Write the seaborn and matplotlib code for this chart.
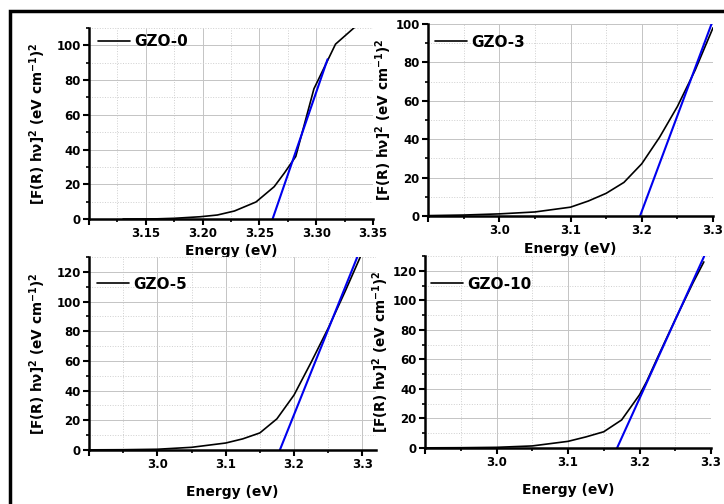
import matplotlib
matplotlib.use("Agg")
import matplotlib.pyplot as plt
from matplotlib.patches import Rectangle
from matplotlib.ticker import MultipleLocator, FuncFormatter
import pandas as pd
import seaborn as sns

# Tauc plot readings, [F(R) hv]^2 versus photon energy
e_gzo0 = [3.13, 3.16, 3.175, 3.198, 3.213, 3.228, 3.247, 3.263, 3.272, 3.282, 3.298, 3.317, 3.334, 3.35]
v_gzo0 = [0.0, 0.1, 0.4, 1.3, 2.3, 4.6, 9.8, 18.6, 26.5, 36, 75, 100.7, 110.5, 119]
fit_e_gzo0 = [3.2616, 3.310]
fit_v_gzo0 = [0, 92]

e_gzo3 = [2.90, 2.95, 3.00, 3.05, 3.10, 3.125, 3.15, 3.175, 3.20, 3.225, 3.25, 3.275, 3.30]
v_gzo3 = [0.2, 0.5, 1.1, 2.1, 4.6, 7.8, 11.8, 17.5, 27.2, 41, 57, 76, 98]
fit_e_gzo3 = [3.1976, 3.2979]
fit_v_gzo3 = [0, 100]

e_gzo5 = [2.90, 2.95, 3.00, 3.05, 3.10, 3.125, 3.15, 3.175, 3.20, 3.225, 3.25, 3.275, 3.297]
v_gzo5 = [0.1, 0.2, 0.5, 1.8, 4.7, 7.5, 11.5, 21, 37, 59, 82, 107, 130]
fit_e_gzo5 = [3.1793, 3.2926]
fit_v_gzo5 = [0, 130]

e_gzo10 = [2.90, 2.95, 3.00, 3.05, 3.10, 3.125, 3.15, 3.175, 3.20, 3.21, 3.225, 3.25, 3.275, 3.29]
v_gzo10 = [0.1, 0.2, 0.45, 1.4, 4.5, 7.5, 11, 19, 36, 45, 61, 87, 112, 126]
fit_e_gzo10 = [3.1686, 3.2906]
fit_v_gzo10 = [0, 130]

sns.set_style("white")
plt.rcParams['font.family'] = ['DejaVu Sans']
plt.rcParams['font.weight'] = 'bold'
plt.rcParams['axes.labelweight'] = 'bold'
for key in ['text.color', 'axes.labelcolor', 'xtick.color', 'ytick.color',
            'xtick.labelcolor', 'ytick.labelcolor']:
    plt.rcParams[key] = 'black'

YLABEL = r"[F(R) h$\mathbf{\nu}$]$^\mathbf{2}$ (eV cm$^\mathbf{-1}$)$^\mathbf{2}$"


def panel(ax, e, v, fe, fv, name, xlim, ylim, xmaj, xmin, ylab_x, xpad, leg_xy):
    df = pd.DataFrame({"Energy": e, "Value": v})
    fit = pd.DataFrame({"Energy": fe, "Value": fv})
    sns.lineplot(data=df, x="Energy", y="Value", color="black", lw=1.2,
                 sort=False, estimator=None, label=name, ax=ax)
    sns.lineplot(data=fit, x="Energy", y="Value", color="#0000ee", lw=1.5,
                 sort=False, estimator=None, legend=False, ax=ax)
    ax.set_xlim(*xlim)
    ax.set_ylim(*ylim)
    ax.xaxis.set_major_locator(MultipleLocator(xmaj))
    ax.xaxis.set_minor_locator(MultipleLocator(xmin))
    ax.yaxis.set_major_locator(MultipleLocator(20))
    ax.yaxis.set_minor_locator(MultipleLocator(10))
    fmt = '%.2f' if xmaj < 0.1 else '%.1f'
    left = xlim[0]
    # the tick at the axis origin carries no label
    ax.xaxis.set_major_formatter(FuncFormatter(
        lambda x, p: '' if abs(x - left) < 1e-6 else fmt % x))
    ax.grid(which='major', color='#c4c4c4', lw=0.7)
    ax.grid(which='minor', color='#cfcfcf', lw=0.7, ls=':')
    ax.set_axisbelow(True)
    for s in ['top', 'right']:
        ax.spines[s].set_visible(False)
    for s in ['left', 'bottom']:
        ax.spines[s].set_linewidth(1.8)
        ax.spines[s].set_color('black')
    ax.tick_params(which='major', direction='out', length=4, width=1.5,
                   labelsize=8.5, color='black', labelcolor='black',
                   left=True, bottom=True, pad=2)
    ax.tick_params(which='minor', direction='out', length=2.5, width=1.2,
                   color='black', left=True, bottom=True)
    ax.set_xlabel("Energy (eV)", fontsize=10, labelpad=xpad, color='black')
    ax.set_ylabel(YLABEL, fontsize=9.8, color='black')
    ax.yaxis.set_label_coords(ylab_x, 0.5)
    h, l = ax.get_legend_handles_labels()
    leg = ax.legend(h[:1], l[:1], loc='center left', bbox_to_anchor=leg_xy,
                    frameon=False, fontsize=11, handlelength=2.1,
                    handletextpad=0.25, borderpad=0, borderaxespad=0)
    for t in leg.get_texts():
        t.set_color('black')


fig = plt.figure(figsize=(7.24, 5.04), dpi=100)
W, H = 724, 504


def box(l, r, t, b):
    return [l / W, 1 - b / H, (r - l) / W, (b - t) / H]


ax1 = fig.add_axes(box(89, 373, 28, 219))
ax2 = fig.add_axes(box(428, 713, 24, 216))
ax3 = fig.add_axes(box(89, 376, 257, 450))
ax4 = fig.add_axes(box(425, 711, 256, 448))

panel(ax1, e_gzo0, v_gzo0, fit_e_gzo0, fit_v_gzo0, "GZO-0",
      (3.10, 3.35), (0, 110), 0.05, 0.025, -0.146, 3, (0.032, 0.927))
panel(ax2, e_gzo3, v_gzo3, fit_e_gzo3, fit_v_gzo3, "GZO-3",
      (2.90, 3.30), (0, 100), 0.1, 0.05, -0.118, 3, (0.025, 0.906))
panel(ax3, e_gzo5, v_gzo5, fit_e_gzo5, fit_v_gzo5, "GZO-5",
      (2.90, 3.32), (0, 130), 0.1, 0.05, -0.144, 10, (0.028, 0.86))
panel(ax4, e_gzo10, v_gzo10, fit_e_gzo10, fit_v_gzo10, "GZO-10",
      (2.90, 3.30), (0, 130), 0.1, 0.05, -0.118, 10, (0.021, 0.854))

# outer black frame, running off the right and bottom edges
fig.add_artist(Rectangle((10 / W, -0.05), 1.0, 1 - 11 / H + 0.05,
                         transform=fig.transFigure, fill=False,
                         lw=2.5, ec='black', clip_on=False))

fig.savefig("out.png", dpi=100)
